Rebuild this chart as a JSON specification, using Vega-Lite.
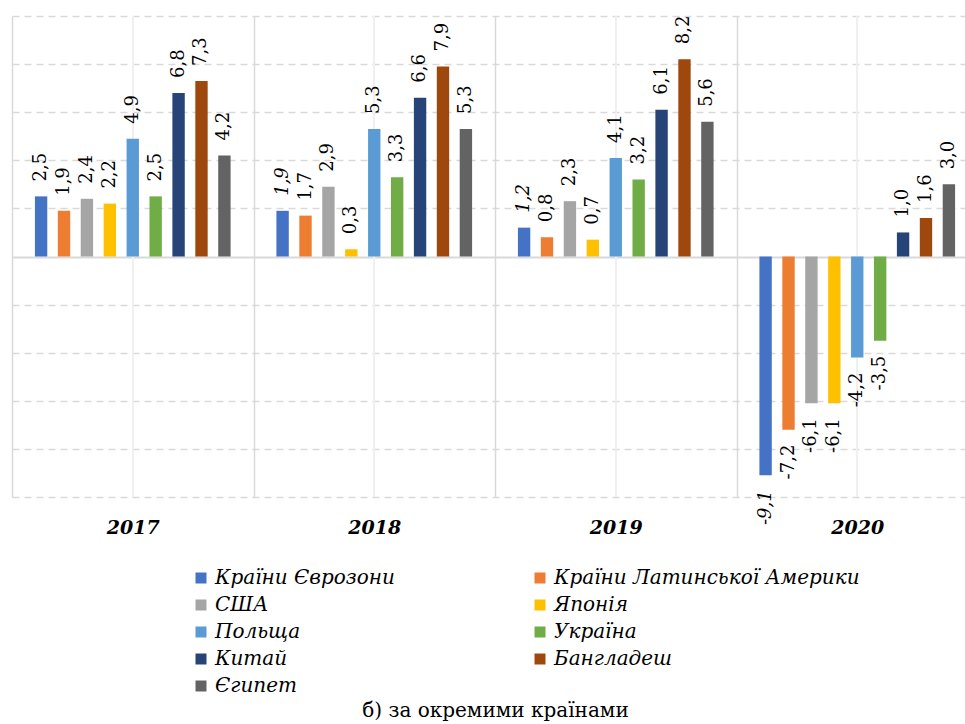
{
  "$schema": "https://vega.github.io/schema/vega-lite/v6.json",
  "width": 953,
  "height": 481,
  "autosize": {"type": "none"},
  "padding": {"left": 12, "top": 16, "right": 0, "bottom": 227},
  "background": "white",
  "config": {
    "view": {"stroke": null},
    "font": "DejaVu Serif",
    "locale": {"number": {"decimal": ",", "thousands": " ", "grouping": [3], "currency": ["", ""], "minus": "-"}}
  },
  "datasets": {
    "growth": [
      {"year": "2017", "country": "Країни Єврозони", "value": 2.5},
      {"year": "2017", "country": "Країни Латинської Америки", "value": 1.9},
      {"year": "2017", "country": "США", "value": 2.4},
      {"year": "2017", "country": "Японія", "value": 2.2},
      {"year": "2017", "country": "Польща", "value": 4.9},
      {"year": "2017", "country": "Україна", "value": 2.5},
      {"year": "2017", "country": "Китай", "value": 6.8},
      {"year": "2017", "country": "Бангладеш", "value": 7.3},
      {"year": "2017", "country": "Єгипет", "value": 4.2},
      {"year": "2018", "country": "Країни Єврозони", "value": 1.9},
      {"year": "2018", "country": "Країни Латинської Америки", "value": 1.7},
      {"year": "2018", "country": "США", "value": 2.9},
      {"year": "2018", "country": "Японія", "value": 0.3},
      {"year": "2018", "country": "Польща", "value": 5.3},
      {"year": "2018", "country": "Україна", "value": 3.3},
      {"year": "2018", "country": "Китай", "value": 6.6},
      {"year": "2018", "country": "Бангладеш", "value": 7.9},
      {"year": "2018", "country": "Єгипет", "value": 5.3},
      {"year": "2019", "country": "Країни Єврозони", "value": 1.2},
      {"year": "2019", "country": "Країни Латинської Америки", "value": 0.8},
      {"year": "2019", "country": "США", "value": 2.3},
      {"year": "2019", "country": "Японія", "value": 0.7},
      {"year": "2019", "country": "Польща", "value": 4.1},
      {"year": "2019", "country": "Україна", "value": 3.2},
      {"year": "2019", "country": "Китай", "value": 6.1},
      {"year": "2019", "country": "Бангладеш", "value": 8.2},
      {"year": "2019", "country": "Єгипет", "value": 5.6},
      {"year": "2020", "country": "Країни Єврозони", "value": -9.1},
      {"year": "2020", "country": "Країни Латинської Америки", "value": -7.2},
      {"year": "2020", "country": "США", "value": -6.1},
      {"year": "2020", "country": "Японія", "value": -6.1},
      {"year": "2020", "country": "Польща", "value": -4.2},
      {"year": "2020", "country": "Україна", "value": -3.5},
      {"year": "2020", "country": "Китай", "value": 1.0},
      {"year": "2020", "country": "Бангладеш", "value": 1.6},
      {"year": "2020", "country": "Єгипет", "value": 3.0}
    ]
  },
  "data": {"name": "growth"},
  "encoding": {
    "x": {
      "field": "year",
      "type": "nominal",
      "scale": {"range": [0, 966], "paddingInner": 0, "paddingOuter": 0},
      "axis": {
        "orient": "bottom",
        "tickBand": "extent",
        "grid": true,
        "gridColor": "#d9d9d9",
        "gridWidth": 1.5,
        "ticks": false,
        "domain": false,
        "labelAngle": 0,
        "labelFont": "DejaVu Serif",
        "labelFontSize": 19,
        "labelFontWeight": "bold",
        "labelFontStyle": "italic",
        "labelColor": "#000000",
        "labelPadding": 21,
        "title": "б) за окремими країнами",
        "titleFont": "DejaVu Serif",
        "titleFontSize": 20,
        "titleFontWeight": "normal",
        "titleColor": "#000000",
        "titlePadding": 163
      }
    }
  },
  "layer": [
    {
      "mark": {"type": "rule", "color": "#efefef", "strokeWidth": 1.5}
    },
    {
      "mark": {"type": "bar"},
      "encoding": {
        "xOffset": {
          "field": "country",
          "type": "nominal",
          "sort": ["Країни Єврозони", "Країни Латинської Америки", "США", "Японія", "Польща", "Україна", "Китай", "Бангладеш", "Єгипет"],
          "scale": {"paddingInner": 0.46, "paddingOuter": 1.17}
        },
        "y": {
          "field": "value",
          "type": "quantitative",
          "scale": {"domain": [-10, 10], "nice": false},
          "axis": {
            "values": [-10, -8, -6, -4, -2, 0, 2, 4, 6, 8, 10],
            "grid": true,
            "gridColor": "#d9d9d9",
            "gridWidth": {"condition": {"test": "datum.value === 0", "value": 2}, "value": 1.5},
            "gridDash": {"condition": {"test": "datum.value === 0", "value": []}, "value": [7, 5]},
            "labels": false,
            "ticks": false,
            "domain": false,
            "title": null
          }
        },
        "color": {
          "field": "country",
          "type": "nominal",
          "scale": {
            "domain": ["Країни Єврозони", "Країни Латинської Америки", "США", "Японія", "Польща", "Україна", "Китай", "Бангладеш", "Єгипет"],
            "range": ["#4472C4", "#ED7D31", "#A5A5A5", "#FFC000", "#5B9BD5", "#70AD47", "#264478", "#9E480E", "#636363"]
          },
          "legend": {
            "orient": "none",
            "legendX": 179,
            "legendY": 552,
            "direction": "horizontal",
            "columns": 2,
            "columnPadding": 135,
            "rowPadding": 7,
            "padding": 0,
            "title": null,
            "symbolType": "square",
            "symbolSize": 121,
            "symbolStrokeWidth": 0,
            "labelFont": "DejaVu Serif",
            "labelFontStyle": "italic",
            "labelFontSize": 20,
            "labelColor": "#000000",
            "labelOffset": 4,
            "labelLimit": 500
          }
        }
      }
    },
    {
      "transform": [{"filter": "datum.value >= 0 && !(datum.country === 'Країни Єврозони' && datum.year !== '2017')"}],
      "mark": {"type": "text", "angle": 270, "align": "left", "baseline": "middle", "dx": 15, "fontSize": 18, "font": "DejaVu Serif", "color": "#000000"},
      "encoding": {
        "xOffset": {"field": "country", "type": "nominal", "sort": ["Країни Єврозони", "Країни Латинської Америки", "США", "Японія", "Польща", "Україна", "Китай", "Бангладеш", "Єгипет"]},
        "y": {"field": "value", "type": "quantitative"},
        "text": {"field": "value", "type": "quantitative", "format": ".1f"}
      }
    },
    {
      "transform": [{"filter": "datum.value >= 0 && datum.country === 'Країни Єврозони' && datum.year !== '2017'"}],
      "mark": {"type": "text", "angle": 270, "align": "left", "baseline": "middle", "dx": 15, "fontSize": 18, "fontStyle": "italic", "font": "DejaVu Serif", "color": "#000000"},
      "encoding": {
        "xOffset": {"field": "country", "type": "nominal", "sort": ["Країни Єврозони", "Країни Латинської Америки", "США", "Японія", "Польща", "Україна", "Китай", "Бангладеш", "Єгипет"]},
        "y": {"field": "value", "type": "quantitative"},
        "text": {"field": "value", "type": "quantitative", "format": ".1f"}
      }
    },
    {
      "transform": [{"filter": "datum.value < 0 && datum.country !== 'Країни Єврозони'"}],
      "mark": {"type": "text", "angle": 270, "align": "right", "baseline": "middle", "dx": -15, "fontSize": 18, "font": "DejaVu Serif", "color": "#000000"},
      "encoding": {
        "xOffset": {"field": "country", "type": "nominal", "sort": ["Країни Єврозони", "Країни Латинської Америки", "США", "Японія", "Польща", "Україна", "Китай", "Бангладеш", "Єгипет"]},
        "y": {"field": "value", "type": "quantitative"},
        "text": {"field": "value", "type": "quantitative", "format": ".1f"}
      }
    },
    {
      "transform": [{"filter": "datum.value < 0 && datum.country === 'Країни Єврозони'"}],
      "mark": {"type": "text", "angle": 270, "align": "right", "baseline": "middle", "dx": -15, "fontSize": 18, "fontStyle": "italic", "font": "DejaVu Serif", "color": "#000000"},
      "encoding": {
        "xOffset": {"field": "country", "type": "nominal", "sort": ["Країни Єврозони", "Країни Латинської Америки", "США", "Японія", "Польща", "Україна", "Китай", "Бангладеш", "Єгипет"]},
        "y": {"field": "value", "type": "quantitative"},
        "text": {"field": "value", "type": "quantitative", "format": ".1f"}
      }
    }
  ]
}
